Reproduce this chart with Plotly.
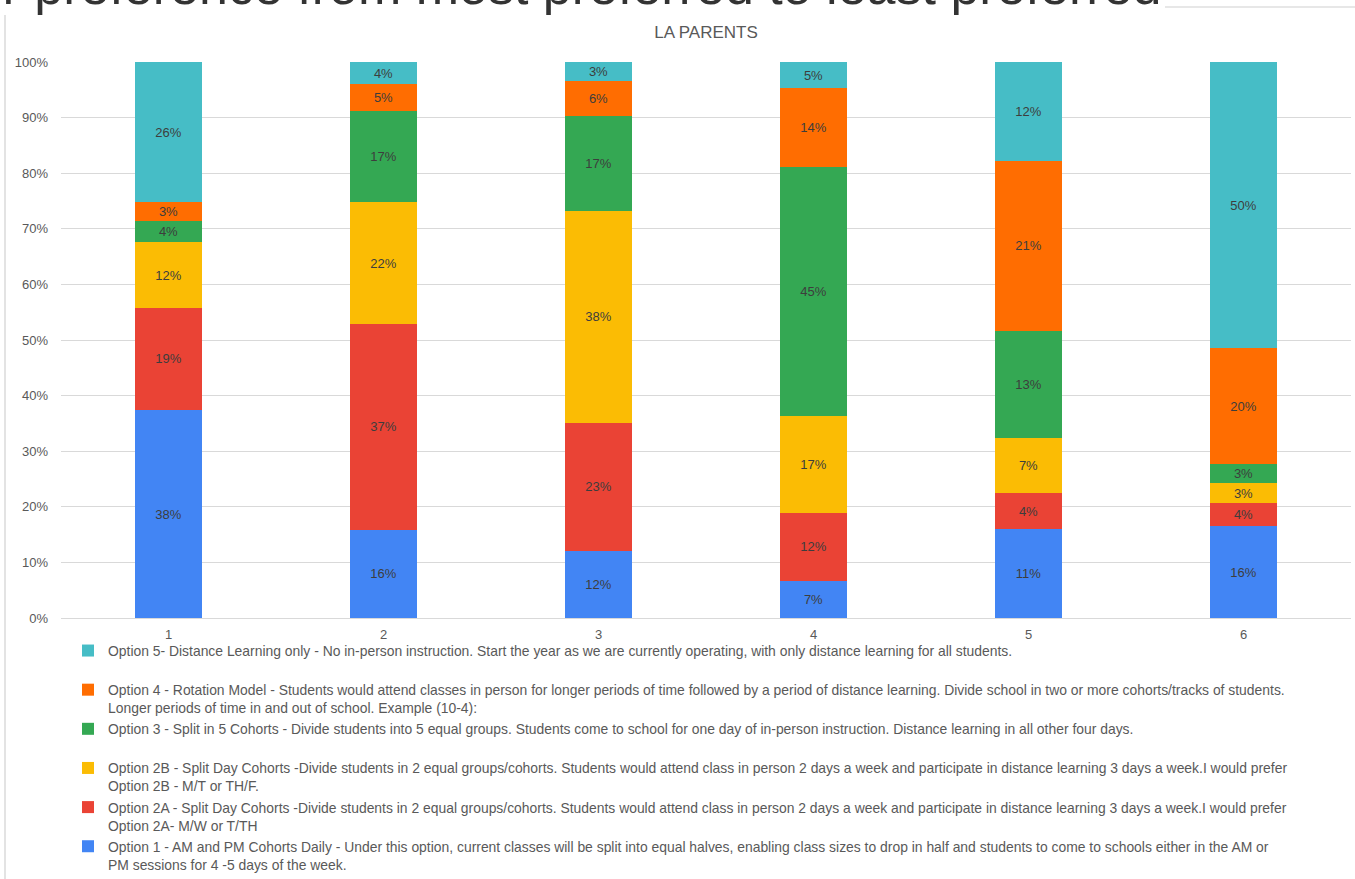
import plotly.graph_objects as go

categories = ["1", "2", "3", "4", "5", "6"]

series_names = [
    "Option 1 - AM and PM Cohorts Daily - Under this option, current classes will be split into equal halves, enabling class sizes to drop in half and students to come to schools either in the AM or<br>PM sessions for 4 -5 days of the week.",
    "Option 2A - Split Day Cohorts -Divide students in 2 equal groups/cohorts. Students would attend class in person 2 days a week and participate in distance learning 3 days a week.I would prefer<br>Option 2A- M/W or T/TH",
    "Option 2B - Split Day Cohorts -Divide students in 2 equal groups/cohorts. Students would attend class in person 2 days a week and participate in distance learning 3 days a week.I would prefer<br>Option 2B - M/T or TH/F.",
    "Option 3 - Split in 5 Cohorts - Divide students into 5 equal groups. Students come to school for one day of in-person instruction. Distance learning in all other four days.<br> ",
    "Option 4 - Rotation Model - Students would attend classes in person for longer periods of time followed by a period of distance learning. Divide school in two or more cohorts/tracks of students.<br>Longer periods of time in and out of school. Example (10-4):",
    "Option 5- Distance Learning only - No in-person instruction. Start the year as we are currently operating, with only distance learning for all students.<br> ",
]

option1 = [37.9, 16.0, 12.0, 6.7, 11.0, 16.0]
option2a = [18.7, 37.4, 22.8, 12.2, 4.4, 4.1]
option2b = [11.9, 22.1, 37.6, 17.4, 6.8, 3.4]
option3 = [3.9, 16.6, 16.9, 44.9, 13.2, 3.4]
option4 = [3.4, 4.9, 6.3, 14.2, 21.0, 20.2]
option5 = [25.6, 4.0, 3.4, 4.7, 12.2, 50.0]

colors = ["#4285F4", "#EA4335", "#FBBC04", "#34A853", "#FF6D01", "#46BDC6"]

series_values = [option1, option2a, option2b, option3, option4, option5]

FONT = "Liberation Sans, Arial, sans-serif"
GREY = "#595959"

fig = go.Figure()
for name, vals, col in zip(series_names, series_values, colors):
    fig.add_trace(go.Bar(
        x=categories,
        y=vals,
        name=name,
        marker=dict(color=col, line=dict(width=0)),
        text=[f"{round(v)}%" for v in vals],
        textposition="inside",
        insidetextanchor="middle",
        textfont=dict(family=FONT, size=13, color="#3d3d3d"),
        hovertemplate="%{y}<extra></extra>",
    ))

# plot area pixel geometry helpers
L, R, T, B = 61, 1351, 62, 618
def px(x):
    return (x - L) / (R - L)
def py(y):
    return (B - y) / (B - T)

fig.update_layout(
    width=1355,
    height=879,
    barmode="stack",
    barnorm="percent",
    bargap=0.684,
    paper_bgcolor="white",
    plot_bgcolor="white",
    margin=dict(l=L, r=1355 - R, t=T, b=879 - B, autoexpand=False),
    font=dict(family=FONT, color=GREY, size=13),
    uniformtext=dict(minsize=13, mode="show"),
    title=dict(
        text="LA PARENTS",
        x=0.5, xanchor="center", xref="paper",
        y=(879 - 32) / 879, yanchor="middle",
        font=dict(family=FONT, size=17, color=GREY),
    ),
    showlegend=True,
    legend=dict(
        traceorder="reversed",
        orientation="v",
        x=px(68), xanchor="left",
        y=py(635), yanchor="top",
        valign="top",
        font=dict(family=FONT, size=13.9, color=GREY),
        tracegroupgap=0,
        bgcolor="rgba(0,0,0,0)",
    ),
    xaxis=dict(
        type="category",
        showgrid=False,
        showline=False,
        ticks="",
        ticklabelstandoff=7,
        tickfont=dict(family=FONT, size=13, color=GREY),
    ),
    yaxis=dict(
        range=[0, 100],
        tickvals=[0, 10, 20, 30, 40, 50, 60, 70, 80, 90, 100],
        ticktext=[f"{v}%" for v in range(0, 101, 10)],
        showgrid=True,
        gridcolor="#d9d9d9",
        gridwidth=1,
        zeroline=True,
        zerolinecolor="#d9d9d9",
        zerolinewidth=1,
        ticks="",
        ticklabelstandoff=12,
        tickfont=dict(family=FONT, size=13, color=GREY),
    ),
)

# chart box borders
fig.add_shape(type="line", xref="paper", yref="paper",
              x0=px(5), x1=px(5), y0=py(15), y1=py(879),
              line=dict(color="#d0d0d0", width=1.2))
fig.add_shape(type="line", xref="paper", yref="paper",
              x0=px(1165), x1=px(1356), y0=py(7), y1=py(7),
              line=dict(color="#d0d0d0", width=1.2))

# partially visible slide heading above the chart
fig.add_annotation(
    text="Please rank in order of your preference from most preferred to least preferred",
    xref="paper", yref="paper",
    x=px(1163), xanchor="right",
    y=py(-14), yanchor="middle",
    showarrow=False,
    font=dict(family=FONT, size=52, color="#333333"),
)

fig.write_html("out.html", config={"displayModeBar": False},
               post_script="document.body.style.margin='0px';")
